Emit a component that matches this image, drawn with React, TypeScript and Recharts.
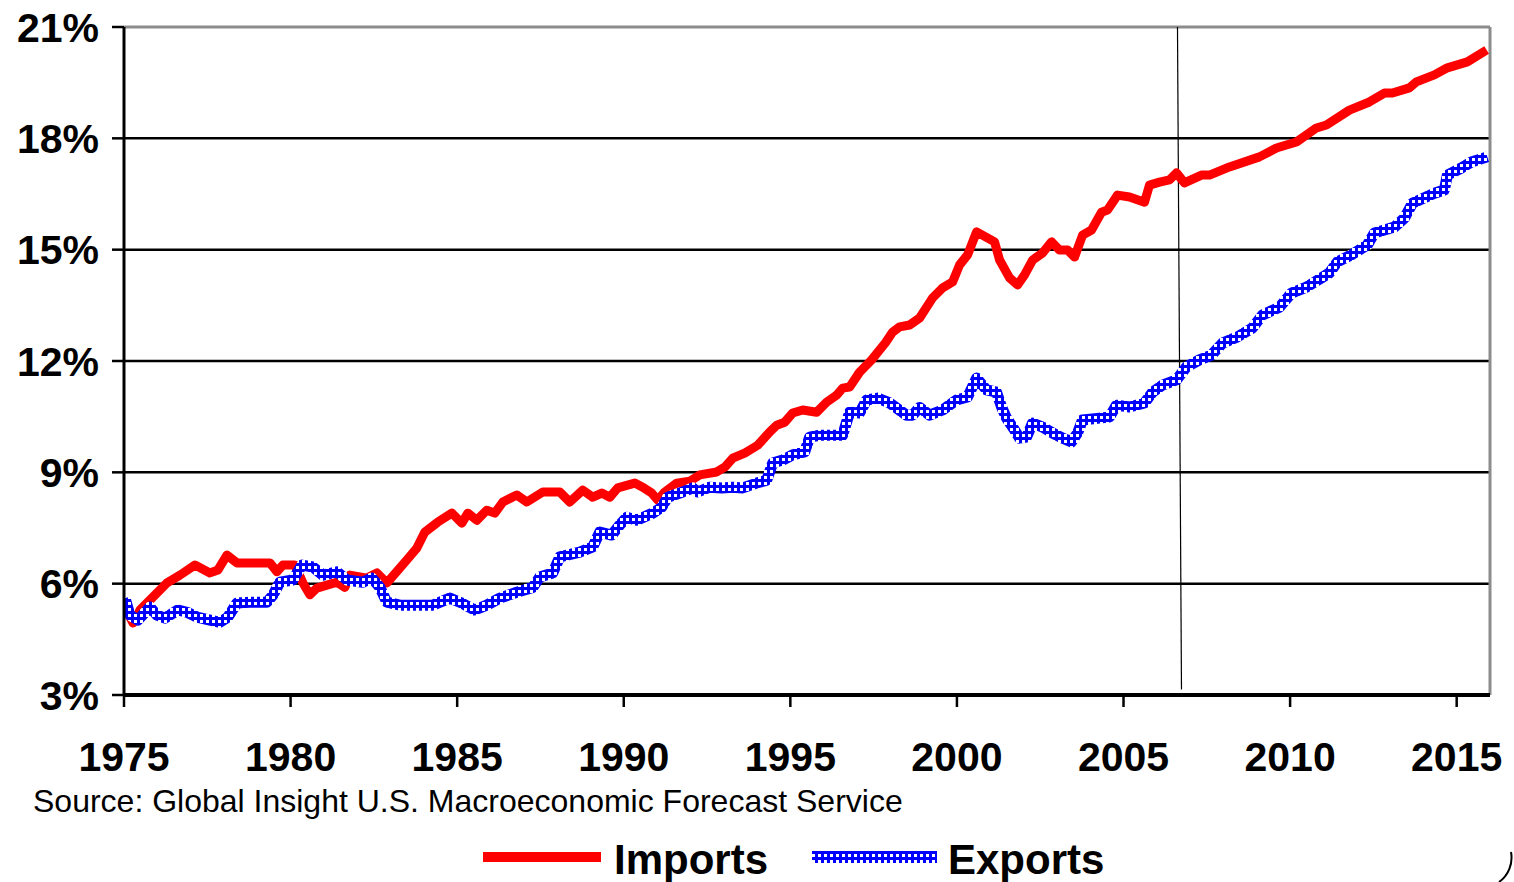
import React from "react";
import {
  LineChart,
  Line,
  XAxis,
  YAxis,
  CartesianGrid,
  ReferenceLine,
} from "recharts";

// share of GDP
const importYears = [
  1975.0, 1975.27, 1975.48, 1975.87, 1976.29, 1976.68, 1977.13, 1977.58, 1977.82, 1978.09,
  1978.39, 1979.38, 1979.59, 1979.77, 1980.13, 1980.37, 1980.58, 1980.79, 1981.39, 1981.63,
  1981.78, 1982.29, 1982.59, 1982.89, 1983.49, 1983.79, 1984.03, 1984.42, 1984.84, 1985.14,
  1985.32, 1985.59, 1985.89, 1986.13, 1986.37, 1986.79, 1987.09, 1987.57, 1988.08, 1988.38,
  1988.77, 1989.07, 1989.34, 1989.58, 1989.82, 1990.33, 1990.57, 1990.84, 1991.02, 1991.23,
  1991.59, 1991.98, 1992.28, 1992.79, 1993.03, 1993.27, 1993.63, 1994.02, 1994.38, 1994.59,
  1994.83, 1995.07, 1995.37, 1995.79, 1996.09, 1996.39, 1996.57, 1996.78, 1997.08, 1997.44,
  1997.86, 1998.07, 1998.28, 1998.58, 1998.88, 1999.27, 1999.57, 1999.87, 2000.08, 2000.32,
  2000.59, 2001.13, 2001.28, 2001.58, 2001.82, 2002.03, 2002.27, 2002.57, 2002.84, 2003.08,
  2003.32, 2003.53, 2003.77, 2004.04, 2004.34, 2004.52, 2004.82, 2005.18, 2005.63, 2005.78,
  2006.08, 2006.38, 2006.59, 2006.83, 2007.34, 2007.58, 2008.18, 2009.08, 2009.59, 2010.19,
  2010.79, 2011.09, 2011.78, 2012.38, 2012.83, 2013.07, 2013.58, 2013.79, 2014.33, 2014.72,
  2015.32, 2015.9,
];
const importValues = [
  5.42, 4.94, 5.29, 5.64, 6.02, 6.23, 6.5, 6.29, 6.37, 6.77,
  6.56, 6.56, 6.32, 6.5, 6.5, 6.02, 5.7, 5.88, 6.04, 5.9,
  6.23, 6.15, 6.29, 6.02, 6.64, 6.96, 7.39, 7.66, 7.9, 7.63,
  7.9, 7.71, 7.98, 7.9, 8.2, 8.39, 8.2, 8.47, 8.47, 8.2,
  8.52, 8.33, 8.44, 8.33, 8.58, 8.71, 8.6, 8.44, 8.25, 8.47,
  8.71, 8.76, 8.93, 9.01, 9.14, 9.38, 9.52, 9.73, 10.09, 10.27,
  10.35, 10.6, 10.68, 10.62, 10.89, 11.08, 11.27, 11.3, 11.7, 12.03,
  12.5, 12.78, 12.92, 12.97, 13.16, 13.7, 13.97, 14.13, 14.59, 14.86,
  15.48, 15.21, 14.72, 14.24, 14.05, 14.32, 14.72, 14.91, 15.21, 14.99,
  14.99, 14.8, 15.39, 15.53, 16.01, 16.07, 16.47, 16.42, 16.28, 16.74,
  16.82, 16.88, 17.07, 16.8, 17.01, 17.01, 17.23, 17.5, 17.74, 17.9,
  18.28, 18.36, 18.76, 18.98, 19.22, 19.22, 19.36, 19.52, 19.71, 19.9,
  20.06, 20.38,
];

const exportYears = [
  1975.03, 1975.18, 1975.42, 1975.78, 1975.99, 1976.23, 1976.62, 1976.89, 1977.19, 1977.58,
  1977.88, 1978.12, 1978.39, 1978.78, 1979.29, 1979.47, 1979.68, 1980.07, 1980.34, 1980.67,
  1980.97, 1981.39, 1981.69, 1982.17, 1982.44, 1982.68, 1982.89, 1983.28, 1984.27, 1984.78,
  1985.08, 1985.53, 1985.89, 1986.28, 1986.79, 1987.27, 1987.48, 1987.87, 1988.08, 1988.68,
  1989.07, 1989.28, 1989.64, 1989.88, 1990.09, 1990.39, 1990.87, 1991.14, 1991.32, 1991.77,
  1992.07, 1992.22, 1992.58, 1992.94, 1993.27, 1993.57, 1993.99, 1994.29, 1994.47, 1994.77,
  1995.07, 1995.43, 1995.58, 1995.88, 1996.57, 1996.78, 1997.08, 1997.29, 1997.62, 1997.98,
  1998.49, 1998.67, 1998.88, 1999.18, 1999.57, 1999.99, 2000.32, 2000.59, 2000.89, 2001.19,
  2001.34, 2001.49, 2001.73, 2001.88, 2002.09, 2002.27, 2002.57, 2002.87, 2003.17, 2003.44,
  2003.62, 2003.77, 2004.28, 2004.58, 2004.79, 2005.18, 2005.63, 2005.87, 2006.17, 2006.59,
  2006.89, 2007.28, 2007.64, 2007.97, 2008.42, 2008.87, 2009.17, 2009.68, 2010.04, 2010.49,
  2011.18, 2011.42, 2011.84, 2012.32, 2012.53, 2013.13, 2013.43, 2013.67, 2014.33, 2014.63,
  2014.72, 2015.14, 2015.44, 2015.92,
];
const exportValues = [
  5.61, 5.15, 5.02, 5.37, 5.15, 5.07, 5.29, 5.23, 5.1, 5.02,
  4.96, 5.1, 5.48, 5.5, 5.5, 5.69, 6.04, 6.1, 6.5, 6.45,
  6.23, 6.32, 6.1, 6.04, 6.15, 5.9, 5.5, 5.42, 5.42, 5.61,
  5.5, 5.29, 5.42, 5.61, 5.77, 5.9, 6.18, 6.29, 6.72, 6.85,
  6.99, 7.39, 7.31, 7.58, 7.79, 7.71, 7.9, 8.06, 8.33, 8.47,
  8.58, 8.47, 8.6, 8.58, 8.6, 8.58, 8.71, 8.79, 9.25, 9.33,
  9.47, 9.55, 9.95, 10.0, 10.0, 10.62, 10.6, 10.95, 11.0, 10.87,
  10.54, 10.54, 10.75, 10.54, 10.68, 10.95, 11.03, 11.54, 11.22, 11.16,
  10.76, 10.46, 10.14, 9.92, 9.95, 10.33, 10.22, 10.06, 9.92, 9.82,
  10.06, 10.41, 10.46, 10.49, 10.81, 10.76, 10.87, 11.16, 11.35, 11.49,
  11.84, 12.03, 12.16, 12.48, 12.65, 12.89, 13.24, 13.45, 13.83, 13.99,
  14.37, 14.67, 14.86, 15.13, 15.45, 15.61, 15.85, 16.25, 16.52, 16.61,
  17.01, 17.2, 17.36, 17.5,
];

const yearTicks = [1975, 1980, 1985, 1990, 1995, 2000, 2005, 2010, 2015];
const pctTicks = [3, 6, 9, 12, 15, 18, 21];
const forecastStart = [2006.62, 2006.74]; // top, bottom of the slanted divider

const FONT = '"Liberation Sans", Arial, Helvetica, sans-serif';

// blue with a grid of small white holes, like the old Excel pattern line
function ExportPattern({ id }: { id: string }) {
  return (
    <pattern id={id} width="6" height="6" patternUnits="userSpaceOnUse">
      <rect width="6" height="6" fill="#0000ff" />
      <rect x="2" y="2" width="3" height="3" fill="#ffffff" />
    </pattern>
  );
}

export default function App() {
  const importData = importYears.map((year, i) => ({ year, value: importValues[i] }));
  const exportData = exportYears.map((year, i) => ({ year, value: exportValues[i] }));

  return (
    <div
      style={{
        position: "absolute",
        left: 0,
        top: 0,
        width: 1514,
        height: 882,
        background: "#fff",
        fontFamily: FONT,
      }}
    >
      <LineChart
        width={1514}
        height={882}
        margin={{ top: 27, right: 24, bottom: 107, left: 0 }}
      >
        <defs>
          <ExportPattern id="expPat" />
        </defs>
        <CartesianGrid
          vertical={false}
          horizontalValues={[6, 9, 12, 15, 18]}
          stroke="#000"
          strokeWidth={2.5}
        />
        <XAxis
          dataKey="year"
          type="number"
          domain={[1975, 2016]}
          ticks={yearTicks}
          allowDataOverflow
          height={80}
          tickSize={12}
          tickMargin={35}
          axisLine={{ stroke: "#000", strokeWidth: 4 }}
          tickLine={{ stroke: "#000", strokeWidth: 2.5 }}
          tick={{ fill: "#000", fontSize: 41, fontWeight: 700, fontFamily: FONT }}
        />
        <YAxis
          type="number"
          domain={[3, 21]}
          ticks={pctTicks}
          width={124}
          tickSize={12}
          tickMargin={13}
          tickFormatter={(v) => `${v}%`}
          axisLine={{ stroke: "#000", strokeWidth: 3 }}
          tickLine={{ stroke: "#000", strokeWidth: 2.5 }}
          tick={{ fill: "#000", fontSize: 41, fontWeight: 700, fontFamily: FONT }}
        />
        <ReferenceLine y={21} stroke="#8c8c8c" strokeWidth={3} />
        <ReferenceLine x={2016} stroke="#8c8c8c" strokeWidth={3} />
        <ReferenceLine
          segment={[
            { x: forecastStart[0], y: 21 },
            { x: forecastStart[1], y: 3.15 },
          ]}
          stroke="#000"
          strokeWidth={1.2}
        />
        <Line
          data={importData}
          dataKey="value"
          name="Imports"
          stroke="#ff0000"
          strokeWidth={9}
          strokeLinejoin="round"
          dot={false}
          isAnimationActive={false}
        />
        <Line
          data={exportData}
          dataKey="value"
          name="Exports"
          stroke="url(#expPat)"
          strokeWidth={11}
          strokeLinejoin="round"
          dot={false}
          isAnimationActive={false}
        />
      </LineChart>

      <svg
        width={1514}
        height={882}
        style={{ position: "absolute", left: 0, top: 0, pointerEvents: "none" }}
      >
        <defs>
          <ExportPattern id="legPat" />
        </defs>
        <text x={33} y={812} fontFamily={FONT} fontSize={32} fill="#000">
          Source: Global Insight U.S. Macroeconomic Forecast Service
        </text>
        <rect x={483} y={852} width={118} height={10} fill="#ff0000" />
        <text x={614} y={874} fontFamily={FONT} fontSize={42} fontWeight={700} fill="#000">
          Imports
        </text>
        <rect x={812} y={851} width={125} height={12} fill="url(#legPat)" />
        <text x={948} y={874} fontFamily={FONT} fontSize={42} fontWeight={700} fill="#000">
          Exports
        </text>
        <path d="M1511,852 A30,30 0 0 1 1499,882" fill="none" stroke="#000" strokeWidth={2} />
      </svg>
    </div>
  );
}
